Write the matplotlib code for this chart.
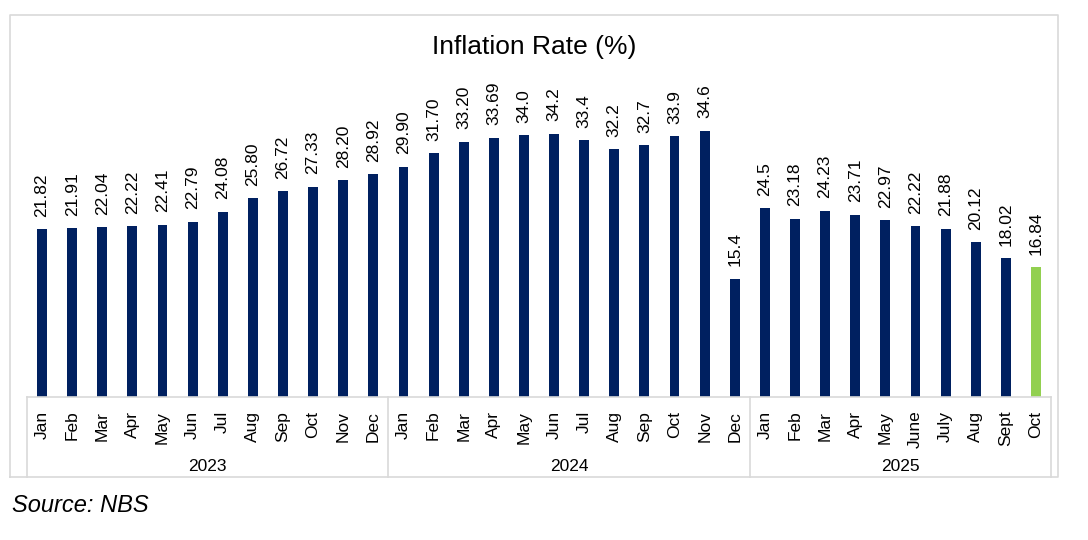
import matplotlib.pyplot as plt
import matplotlib.transforms as mtransforms
from matplotlib.lines import Line2D

plt.rcParams['font.family'] = ['Liberation Sans', 'DejaVu Sans']

# Данные
years = ['2023', '2024', '2025']
months_2023 = ['Jan', 'Feb', 'Mar', 'Apr', 'May', 'Jun', 'Jul', 'Aug', 'Sep', 'Oct', 'Nov', 'Dec']
months_2024 = ['Jan', 'Feb', 'Mar', 'Apr', 'May', 'Jun', 'Jul', 'Aug', 'Sep', 'Oct', 'Nov', 'Dec']
months_2025 = ['Jan', 'Feb', 'Mar', 'Apr', 'May', 'June', 'July', 'Aug', 'Sept', 'Oct']

rate_2023 = [21.82, 21.91, 22.04, 22.22, 22.41, 22.79, 24.08, 25.80, 26.72, 27.33, 28.20, 28.92]
rate_2024 = [29.90, 31.70, 33.20, 33.69, 34.0, 34.2, 33.4, 32.2, 32.7, 33.9, 34.6, 15.4]
rate_2025 = [24.5, 23.18, 24.23, 23.71, 22.97, 22.22, 21.88, 20.12, 18.02, 16.84]

labels_2023 = ['21.82', '21.91', '22.04', '22.22', '22.41', '22.79', '24.08', '25.80', '26.72', '27.33', '28.20', '28.92']
labels_2024 = ['29.90', '31.70', '33.20', '33.69', '34.0', '34.2', '33.4', '32.2', '32.7', '33.9', '34.6', '15.4']
labels_2025 = ['24.5', '23.18', '24.23', '23.71', '22.97', '22.22', '21.88', '20.12', '18.02', '16.84']

months = months_2023 + months_2024 + months_2025
values = rate_2023 + rate_2024 + rate_2025
labels = labels_2023 + labels_2024 + labels_2025
group_sizes = [len(months_2023), len(months_2024), len(months_2025)]

navy = '#002060'
green = '#92D050'
grey = '#D9D9D9'

fig = plt.figure(figsize=(10.88, 5.4), dpi=100)
ax = fig.add_axes([27 / 1088, 143 / 540, 1024 / 1088, 327 / 540])

x = list(range(len(values)))
colors = [navy] * (len(values) - 1) + [green]
ax.bar(x, values, width=0.33, color=colors)

# Подписи значений
for xi, v, lab in zip(x, values, labels):
    ax.annotate(lab, (xi, v), xytext=(0, 9), textcoords='offset points',
                rotation=90, ha='center', va='bottom', fontsize=12.5)

ax.set_xlim(-0.5, len(values) - 0.5)
ax.set_ylim(0, 42.5)
ax.set_xticks([])
ax.set_yticks([])
for s in ax.spines.values():
    s.set_visible(False)

trans = mtransforms.blended_transform_factory(ax.transData, ax.transAxes)
box_bottom = -0.2446

# Подписи месяцев
for xi, m in zip(x, months):
    ax.text(xi, -0.042, m, rotation=90, ha='center', va='top', fontsize=12.5,
            transform=trans)

# Рамки групп по годам
ax.add_line(Line2D([-0.5, len(values) - 0.5], [0, 0], transform=trans,
                   color=grey, lw=1.2, clip_on=False))
start = 0
bounds = [-0.5]
for year, n in zip(years, group_sizes):
    ax.text(start + (n - 1) / 2, -0.214, year, ha='center', va='center',
            fontsize=12.5, transform=trans)
    start += n
    bounds.append(start - 0.5)
for b in bounds:
    ax.add_line(Line2D([b, b], [0, box_bottom], transform=trans,
                       color=grey, lw=1.2, clip_on=False))

# Внешняя рамка
l, r, b, t = 10 / 1088, 1058 / 1088, 63 / 540, 525 / 540
fig.add_artist(Line2D([l, r, r, l, l], [b, b, t, t, b], transform=fig.transFigure,
                      color=grey, lw=1.2))

fig.text(534 / 1088, 1 - 47 / 540, 'Inflation Rate (%)', ha='center', va='center',
         fontsize=19)
fig.text(12 / 1088, 1 - 505 / 540, 'Source: NBS', ha='left', va='center',
         fontsize=17, style='italic')

fig.savefig('out.png', dpi=100)
